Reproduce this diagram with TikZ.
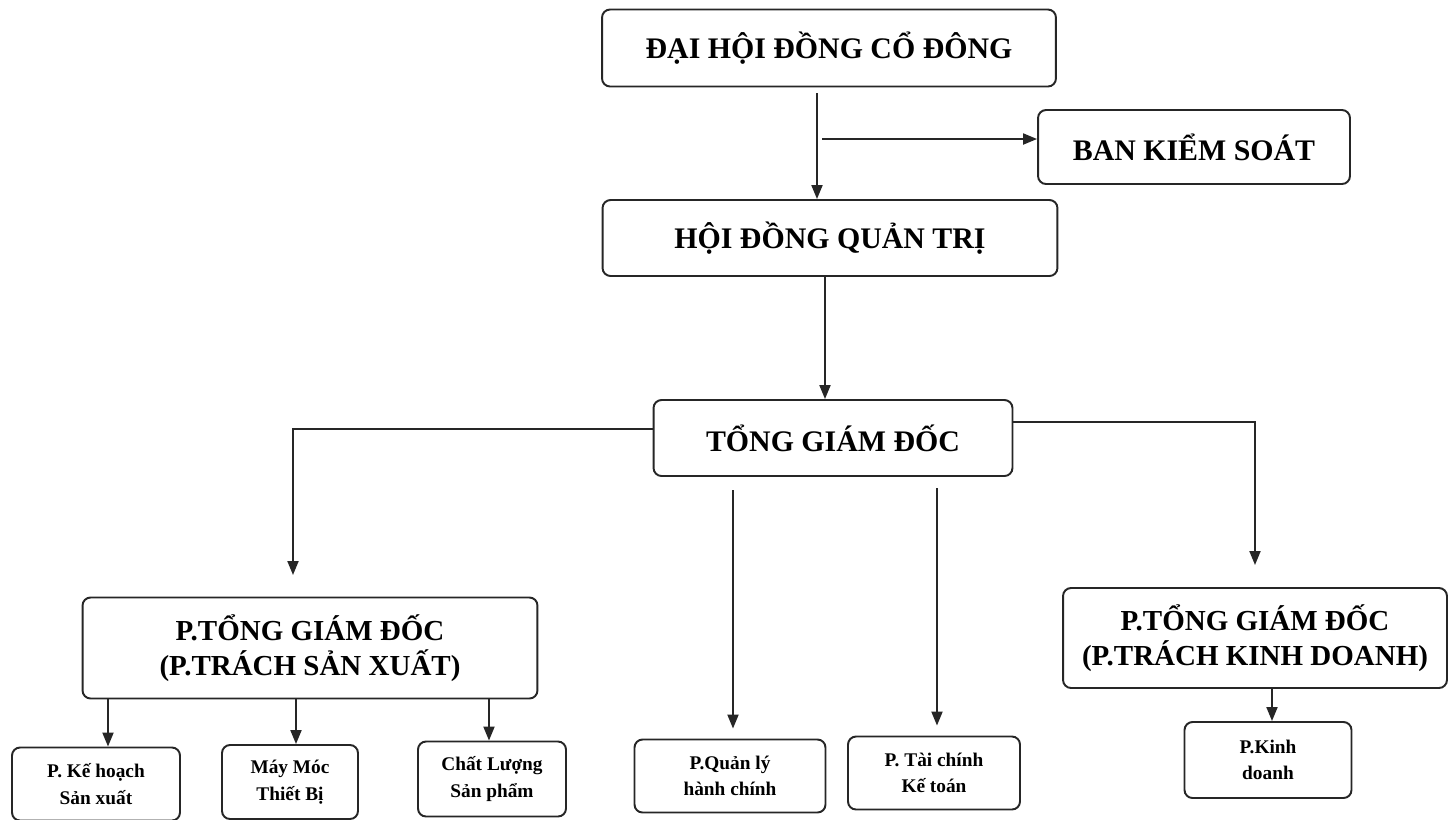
\documentclass[tikz,border=0pt]{standalone}
\usepackage{fontspec}
\setmainfont{Liberation Serif}
\usetikzlibrary{arrows.meta}
\tikzset{
  box/.style={draw=black!85,line width=1.1pt,rounded corners=0.16cm,fill=white,
    align=center,font=\bfseries\fontsize{17}{20}\selectfont,inner sep=0pt},
  midbox/.style={box,font=\bfseries\fontsize{16.5}{20}\selectfont},
  smallbox/.style={box,font=\bfseries\fontsize{11}{15}\selectfont},
  link/.style={draw=black!85,line width=1.1pt,-{Triangle[length=0.28cm,width=0.22cm]}}
}
\begin{document}
\begin{tikzpicture}[x=0.02cm,y=-0.02cm]
  \useasboundingbox[fill=white] (0,0) rectangle (1455,819);
  % top level
  \node[box,minimum width=9.08cm,minimum height=1.54cm] (dhd) at (829,48) {ĐẠI HỘI ĐỒNG CỔ ĐÔNG};
  \node[box,minimum width=6.24cm,minimum height=1.48cm] (bks) at (1194,147) {BAN KIỂM SOÁT};
  \node[box,minimum width=9.10cm,minimum height=1.52cm] (hdqt) at (830,238) {HỘI ĐỒNG QUẢN TRỊ};
  \node[box,minimum width=7.18cm,minimum height=1.52cm] (tgd) at (833,438) {TỔNG GIÁM ĐỐC};
  % deputies
  \node[midbox,minimum width=9.10cm,minimum height=2.02cm] (ptsx) at (310,648) {P.TỔNG GIÁM ĐỐC\\(P.TRÁCH SẢN XUẤT)};
  \node[midbox,minimum width=7.68cm,minimum height=2.00cm] (ptkd) at (1255,638) {P.TỔNG GIÁM ĐỐC\\(P.TRÁCH KINH DOANH)};
  % departments
  \node[smallbox,minimum width=3.36cm,minimum height=1.46cm] (kh) at (96,784) {P. Kế hoạch\\Sản xuất};
  \node[smallbox,minimum width=2.72cm,minimum height=1.48cm] (mm) at (290,782) {Máy Móc\\Thiết Bị};
  \node[smallbox,minimum width=2.96cm,minimum height=1.50cm] (cl) at (492,779) {Chất Lượng\\Sản phẩm};
  \node[smallbox,minimum width=3.82cm,minimum height=1.46cm] (ql) at (730,776) {P.Quản lý\\hành chính};
  \node[smallbox,minimum width=3.44cm,minimum height=1.46cm] (tc) at (934,773) {P. Tài chính\\Kế toán};
  \node[smallbox,minimum width=3.34cm,minimum height=1.52cm] (kd) at (1268,760) {P.Kinh\\doanh};
  % free ends
  \coordinate (dhdout) at (817,93);
  \coordinate (bksout) at (822,139);
  \coordinate (hdqtx) at (825,0);
  \coordinate (sxend) at (293,575);
  \coordinate (kdend) at (1255,565);
  \coordinate (qlstart) at (733,490);
  \coordinate (tcstart) at (937,488);
  % connectors
  \draw[link] (dhdout) -- (dhdout |- hdqt.north);
  \draw[link] (bksout) -- (bksout -| bks.west);
  \draw[link] (hdqt.south -| hdqtx) -- (tgd.north -| hdqtx);
  \draw[link] (tgd.west |- 0,429) -| (sxend);
  \draw[link] (tgd.east |- 0,422) -| (kdend);
  \draw[link] (qlstart) -- ([yshift=0.2cm]ql.north -| qlstart);
  \draw[link] (tcstart) -- ([yshift=0.2cm]tc.north -| tcstart);
  \draw[link] (ptsx.south -| 108,0) -- (kh.north -| 108,0);
  \draw[link] (ptsx.south -| 296,0) -- (mm.north -| 296,0);
  \draw[link] (ptsx.south -| 489,0) -- (cl.north -| 489,0);
  \draw[link] (ptkd.south -| 1272,0) -- (kd.north -| 1272,0);
\end{tikzpicture}
\end{document}
